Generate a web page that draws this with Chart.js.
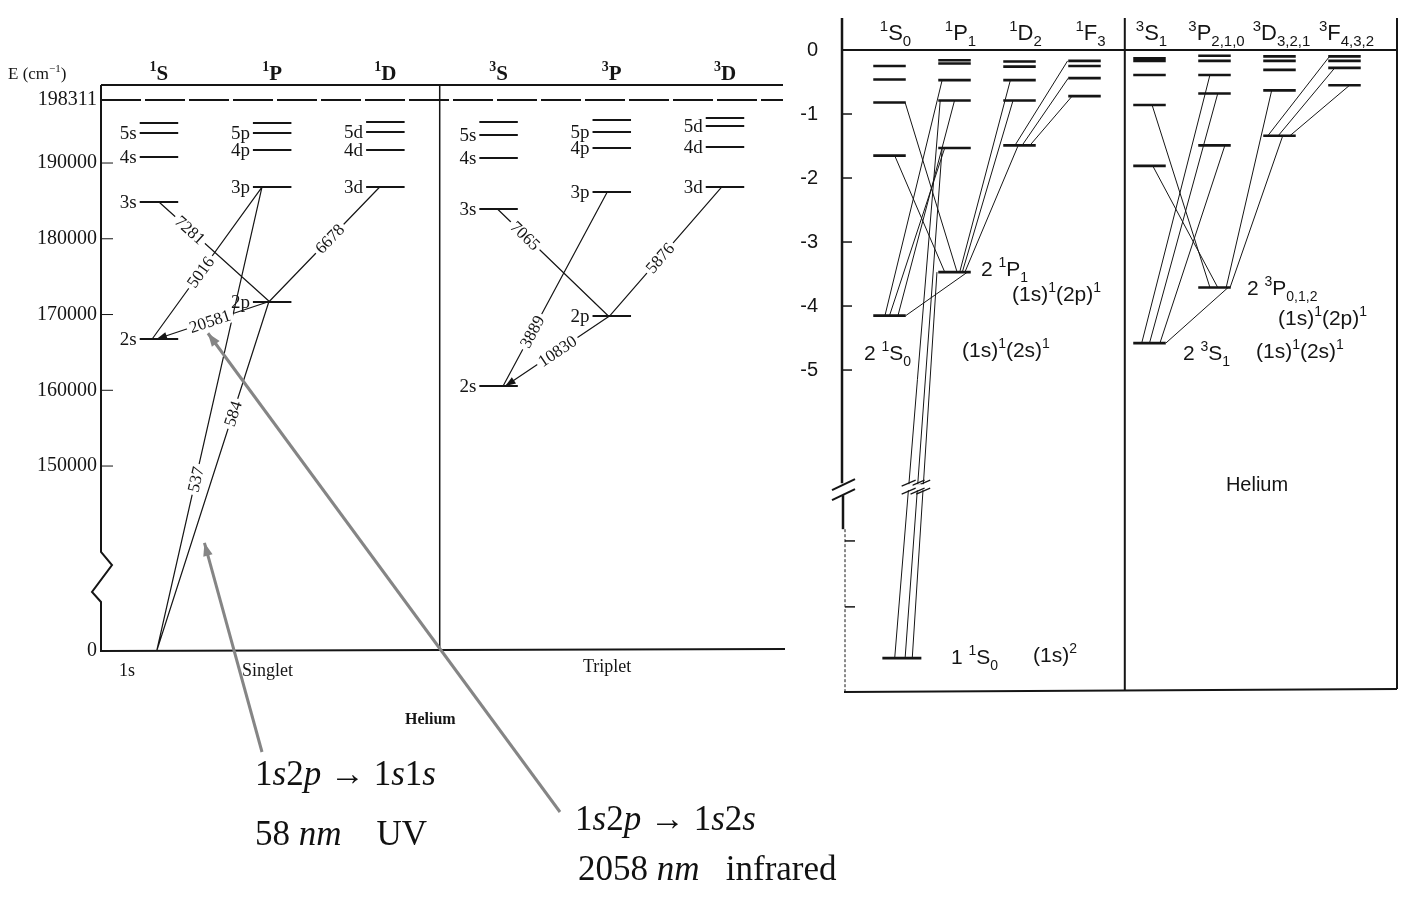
<!DOCTYPE html>
<html lang="en">
<head>
<meta charset="UTF-8">
<title>Helium term diagram</title>
<style>
  body { margin: 0; background: #fff; width: 1401px; height: 899px; position: relative; overflow: hidden; }
  canvas { position: absolute; top: 0; }
  #left { left: 0; }
  #right { left: 790px; }
  .note { position: absolute; font-family: "Liberation Serif", serif; font-size: 35px; color: #111; white-space: pre; line-height: 1; }
  .note i { font-style: italic; }
</style>
</head>
<body>
<canvas id="left" width="790" height="899"></canvas>
<canvas id="right" width="611" height="899"></canvas>
<div class="note" style="left:255px;top:756px">1<i>s</i>2<i>p</i> → 1<i>s</i>1<i>s</i></div>
<div class="note" style="left:255px;top:816px">58 <i>nm</i>    UV</div>
<div class="note" style="left:575px;top:801px">1<i>s</i>2<i>p</i> → 1<i>s</i>2<i>s</i></div>
<div class="note" style="left:578px;top:851px">2058 <i>nm</i>   infrared</div>

<script src="https://cdn.jsdelivr.net/npm/chart.js"></script>
<script>
// ---------- left diagram: term values in cm^-1 ----------
const singletS = [['2s', 166770], ['3s', 184850], ['4s', 190790], ['5s', 193960], ['', 195280]];
const singletP = [['2p', 171650], ['3p', 186830], ['4p', 191720], ['5p', 193960], ['', 195280]];
const singletD = [['3d', 186830], ['4d', 191720], ['5d', 194090], ['', 195410]];
const tripletS = [['2s', 160560], ['3s', 183930], ['4s', 190660], ['5s', 193700], ['', 195410]];
const tripletP = [['2p', 169800], ['3p', 186170], ['4p', 191980], ['5p', 194090], ['', 195680]];
const tripletD = [['3d', 186830], ['4d', 192110], ['5d', 194880], ['', 195940]];
const groundCm = 0;          // 1s^2
const ionLimit = 198311;
const leftTicks = [0, 150000, 160000, 170000, 180000, 190000, 198311];
const leftHeads = ['^{1}S', '^{1}P', '^{1}D', '^{3}S', '^{3}P', '^{3}D'];
// lines, wavelength in Å: [upper col, term, nudge, lower col, term, nudge, label, label pos]
const leftLines = [
  [0, '3s', 0.00, 1, '2p', -0.02, '7281', 0.28],
  [1, '3p', -0.09, 0, '2s', -0.06, '5016', 0.56],
  [1, '2p', -0.04, 0, '2s', -0.02, '20581', 0.52],
  [2, '3d', -0.05, 1, '2p', -0.03, '6678', 0.45],
  [1, '3p', -0.09, 0, '1s', -0.02, '537', 0.63],
  [1, '2p', -0.03, 0, '1s', -0.02, '584', 0.32],
  [3, '3s', -0.01, 4, '2p', -0.03, '7065', 0.25],
  [4, '3p', -0.04, 3, '2s', 0.04, '3889', 0.72],
  [4, '2p', -0.02, 3, '2s', 0.06, '10830', 0.5],
  [5, '3d', -0.03, 4, '2p', -0.02, '5876', 0.55]
];
const arrowed = ['20581', '10830'];

// ---------- right diagram: energies in eV ----------
const rHeads = ['^{1}S_{0}', '^{1}P_{1}', '^{1}D_{2}', '^{1}F_{3}', '^{3}S_{1}', '^{3}P_{2,1,0}', '^{3}D_{3,2,1}', '^{3}F_{4,3,2}'];
const r1S = [[2, -4.15], [3, -1.65], [4, -0.82], [5, -0.46], [6, -0.25]];
const r1P = [[2, -3.47], [3, -1.53], [4, -0.79], [5, -0.47], [6, -0.21], [7, -0.16]];
const r1D = [[3, -1.49], [4, -0.79], [5, -0.47], [6, -0.26], [7, -0.18]];
const r1F = [[4, -0.72], [5, -0.44], [6, -0.25], [7, -0.17]];
const r3S = [[2, -4.58], [3, -1.81], [4, -0.86], [5, -0.39], [6, -0.17], [7, -0.13]];
const r3P = [[2, -3.71], [3, -1.49], [4, -0.68], [5, -0.39], [6, -0.17], [7, -0.09]];
const r3D = [[3, -1.34], [4, -0.63], [5, -0.31], [6, -0.17], [7, -0.1]];
const r3F = [[4, -0.55], [5, -0.28], [6, -0.17], [7, -0.1]];
const groundEv = -24.59;
const rTicks = [0, -1, -2, -3, -4, -5];
const rMinorTicks = [-7.67, -8.7];
// [upper col, n, nudge, lower col, n, nudge]   n = 1 is the ground state
const rLines = [
  [0, 3, 0.08, 1, 2, -0.15], [0, 4, 0.24, 1, 2, 0.04],
  [1, 3, -0.15, 0, 2, 0.0], [1, 4, 0.0, 0, 2, 0.13], [1, 5, -0.19, 0, 2, -0.07], [1, 2, 0.2, 0, 2, 0.25],
  [1, 2, -0.27, 0, 1, 0.35], [1, 3, -0.19, 0, 1, 0.24], [1, 4, -0.22, 0, 1, 0.08],
  [2, 3, -0.02, 1, 2, 0.16], [2, 4, -0.1, 1, 2, 0.12], [2, 5, -0.14, 1, 2, 0.08],
  [3, 4, -0.19, 2, 3, 0.16], [3, 5, -0.25, 2, 3, 0.04], [3, 7, -0.26, 2, 3, -0.07],
  [4, 3, 0.05, 5, 2, 0.05], [4, 4, 0.04, 5, 2, -0.07],
  [5, 3, 0.16, 4, 2, 0.16], [5, 4, 0.05, 4, 2, 0.0], [5, 5, -0.07, 4, 2, -0.12], [5, 2, 0.21, 4, 2, 0.25],
  [6, 3, 0.05, 5, 2, 0.24], [6, 4, -0.12, 5, 2, 0.18],
  [7, 4, 0.08, 6, 3, 0.16], [7, 5, -0.15, 6, 3, -0.02], [7, 7, -0.23, 6, 3, -0.18]
];

// ---------- helpers ----------
const INK = '#151515';
const SERIF = '"Liberation Serif", "Times New Roman", serif';
const SANS = '"Liberation Sans", Arial, sans-serif';
const ZERO_AT = 125584;     // broken axis: where E = 0 sits
const R_GROUND_AT = -9.5;   // broken axis: where the ground state sits
const R_BREAK = -6.83;

const leftCols = [singletS, singletP, singletD, tripletS, tripletP, tripletD];
const rCols = [r1S, r1P, r1D, r1F, r3S, r3P, r3D, r3F];
const yL = e => (e === 0 ? ZERO_AT : e);
const yR = e => (e < -10 ? R_GROUND_AT : e);

function leftEnd(col, term, nudge) {
  const e = term === '1s' ? groundCm : leftCols[col].find(l => l[0] === term)[1];
  return { x: col + nudge, y: yL(e) };
}
function rightEnd(col, n, nudge) {
  if (n === 1) return { x: col + nudge, y: yR(groundEv) };
  return { x: col + nudge, y: yR(rCols[col].find(l => l[0] === n)[1]) };
}
function segs(list) {
  const out = [];
  list.forEach(([a, b]) => out.push(a, b, { x: a.x, y: null }));
  return out;
}
function seg(ctx, x1, y1, x2, y2) {
  ctx.beginPath(); ctx.moveTo(x1, y1); ctx.lineTo(x2, y2); ctx.stroke();
}
function rich(ctx, str, x, y, size, family, align, weight) {
  const parts = [];
  const re = /([\^_])\{([^}]*)\}|([^\^_]+)/g;
  let m;
  while ((m = re.exec(str))) {
    if (m[3] !== undefined) parts.push({ t: m[3], k: 0 });
    else parts.push({ t: m[2], k: m[1] === '^' ? 1 : -1 });
  }
  const w8 = weight ? weight + ' ' : '';
  const font = k => w8 + Math.round(k ? size * 0.66 : size) + 'px ' + family;
  let total = 0;
  parts.forEach(p => { ctx.font = font(p.k); p.w = ctx.measureText(p.t).width; total += p.w; });
  let cx = align === 'center' ? x - total / 2 : x;
  ctx.textAlign = 'left';
  ctx.textBaseline = 'alphabetic';
  parts.forEach(p => {
    ctx.font = font(p.k);
    ctx.fillText(p.t, cx, y + (p.k === 1 ? -size * 0.42 : p.k === -1 ? size * 0.28 : 0));
    cx += p.w;
  });
}
function arrowHead(ctx, from, tip, size) {
  const ang = Math.atan2(tip.y - from.y, tip.x - from.x);
  ctx.beginPath();
  ctx.moveTo(tip.x, tip.y);
  ctx.lineTo(tip.x - size * Math.cos(ang - 0.35), tip.y - size * Math.sin(ang - 0.35));
  ctx.lineTo(tip.x - size * Math.cos(ang + 0.35), tip.y - size * Math.sin(ang + 0.35));
  ctx.closePath();
  ctx.fill();
}

// ---------- left chart ----------
const leftLevelPts = [];
leftCols.forEach((col, k) => col.forEach(([, e]) => {
  leftLevelPts.push([{ x: k - 0.17, y: e }, { x: k + 0.17, y: e }]);
}));
const leftLinePts = leftLines.map(l => [leftEnd(l[0], l[1], l[2]), leftEnd(l[3], l[4], l[5])]);

const leftDecor = {
  id: 'leftDecor',
  afterDatasetsDraw(chart) {
    const { ctx, chartArea: a, scales: { x, y } } = chart;
    const P = p => ({ x: x.getPixelForValue(p.x), y: y.getPixelForValue(p.y) });
    ctx.save();
    ctx.strokeStyle = INK; ctx.fillStyle = INK;
    // frame and broken energy axis
    ctx.lineWidth = 2;
    seg(ctx, a.left, a.top, a.right + 3, a.top);
    ctx.setLineDash([40, 4]);
    seg(ctx, a.left, y.getPixelForValue(ionLimit), a.right + 3, y.getPixelForValue(ionLimit));
    ctx.setLineDash([]);
    ctx.beginPath();
    ctx.moveTo(a.left, a.top);
    ctx.lineTo(a.left, a.bottom - 99);
    ctx.lineTo(a.left + 11, a.bottom - 86);
    ctx.lineTo(a.left - 9, a.bottom - 59);
    ctx.lineTo(a.left, a.bottom - 49);
    ctx.lineTo(a.left, a.bottom);
    ctx.lineTo(a.right + 5, a.bottom - 2);
    ctx.stroke();
    ctx.lineWidth = 1.5;
    seg(ctx, x.getPixelForValue(2.48), a.top, x.getPixelForValue(2.48), a.bottom);
    ctx.lineWidth = 1;
    leftTicks.slice(1, -1).forEach(v => seg(ctx, a.left, y.getPixelForValue(v), a.left + 12, y.getPixelForValue(v)));

    // column heads
    leftHeads.forEach((h, k) => rich(ctx, h, x.getPixelForValue(k), 80, 21, SERIF, 'center', 'bold'));
    rich(ctx, 'E (cm^{\u22121})', 8, 79, 17, SERIF, 'left');

    // level names
    ctx.font = '19px ' + SERIF;
    ctx.textAlign = 'right'; ctx.textBaseline = 'middle';
    leftCols.forEach((col, k) => col.forEach(([lab, e]) => {
      if (lab) ctx.fillText(lab, x.getPixelForValue(k - 0.17) - 3, y.getPixelForValue(e) + 1);
    }));

    // wavelength labels sitting in the lines
    leftLines.forEach((l, i) => {
      const p1 = P(leftLinePts[i][0]), p2 = P(leftLinePts[i][1]);
      const t = l[7];
      const cx = p1.x + (p2.x - p1.x) * t, cy = p1.y + (p2.y - p1.y) * t;
      let ang = Math.atan2(p2.y - p1.y, p2.x - p1.x);
      if (ang > Math.PI / 2) ang -= Math.PI;
      if (ang < -Math.PI / 2) ang += Math.PI;
      ctx.save();
      ctx.translate(cx, cy); ctx.rotate(ang);
      ctx.font = '17px ' + SERIF;
      const w = ctx.measureText(l[6]).width;
      ctx.fillStyle = '#fff'; ctx.fillRect(-w / 2 - 3, -8, w + 6, 16);
      ctx.fillStyle = INK; ctx.textAlign = 'center'; ctx.textBaseline = 'middle';
      ctx.fillText(l[6], 0, 1);
      ctx.restore();
      if (arrowed.includes(l[6])) arrowHead(ctx, p1, p2, 11);
    });

    // captions
    ctx.font = '18px ' + SERIF; ctx.textAlign = 'left'; ctx.textBaseline = 'alphabetic';
    ctx.fillText('1s', 119, a.bottom + 25);
    ctx.fillText('Singlet', 242, a.bottom + 25);
    ctx.fillText('Triplet', 583, a.bottom + 21);
    ctx.font = 'bold 16px ' + SERIF;
    ctx.fillText('Helium', 405, a.bottom + 73);

    // grey pointer arrows to the two lines discussed below
    const ir = leftLines.findIndex(l => l[6] === '20581');
    const r1 = P(leftLinePts[ir][0]), r2 = P(leftLinePts[ir][1]);
    const tipA = { x: r1.x + (r2.x - r1.x) * 0.52 - 2, y: r1.y + (r2.y - r1.y) * 0.52 + 12 };
    const iu = leftLines.findIndex(l => l[6] === '584');
    const u1 = P(leftLinePts[iu][0]), u2 = P(leftLinePts[iu][1]);
    const tipB = { x: u1.x + (u2.x - u1.x) * 0.69 + 13, y: u1.y + (u2.y - u1.y) * 0.69 };
    ctx.strokeStyle = '#858585'; ctx.fillStyle = '#858585'; ctx.lineWidth = 3;
    const tailA = { x: 560, y: 812 }, tailB = { x: 262, y: 752 };
    seg(ctx, tailA.x, tailA.y, tipA.x, tipA.y); arrowHead(ctx, tailA, tipA, 14);
    seg(ctx, tailB.x, tailB.y, tipB.x, tipB.y); arrowHead(ctx, tailB, tipB, 14);
    ctx.restore();
  }
};

new Chart(document.getElementById('left'), {
  type: 'scatter',
  data: {
    datasets: [
      { data: segs(leftLevelPts), showLine: true, borderColor: INK, borderWidth: 2, pointRadius: 0 },
      { data: segs(leftLinePts), showLine: true, borderColor: INK, borderWidth: 1.2, pointRadius: 0 }
    ]
  },
  options: {
    responsive: false, animation: false, events: [],
    plugins: { legend: { display: false }, tooltip: { enabled: false } },
    layout: { padding: { top: 85, right: 10, bottom: 248, left: 0 } },
    scales: {
      x: { type: 'linear', display: false, min: -0.512, max: 5.486 },
      y: {
        type: 'linear', min: ZERO_AT, max: 200300,
        afterFit: s => { s.width = 101; },
        afterBuildTicks: s => { s.ticks = leftTicks.map(v => ({ value: yL(v) })); },
        ticks: {
          autoSkip: false, padding: 4, color: INK,
          font: { family: SERIF, size: 20 },
          callback: v => (v === ZERO_AT ? '0' : String(v))
        },
        grid: { display: false, drawTicks: false },
        border: { display: false }
      }
    }
  },
  plugins: [leftDecor]
});

// ---------- right chart ----------
const rLevelPts = [];
rCols.forEach((col, k) => col.forEach(([, e]) => {
  rLevelPts.push([{ x: k - 0.25, y: yR(e) }, { x: k + 0.25, y: yR(e) }]);
}));
rLevelPts.push([{ x: -0.11, y: yR(groundEv) }, { x: 0.49, y: yR(groundEv) }]);
const rLinePts = rLines.map(l => [rightEnd(l[0], l[1], l[2]), rightEnd(l[3], l[4], l[5])]);

const rightDecor = {
  id: 'rightDecor',
  afterDatasetsDraw(chart) {
    const { ctx, chartArea: a, scales: { x, y } } = chart;
    const P = p => ({ x: x.getPixelForValue(p.x), y: y.getPixelForValue(p.y) });
    const top = 18;
    const yb = y.getPixelForValue(R_BREAK);
    ctx.save();
    ctx.strokeStyle = INK; ctx.fillStyle = INK;

    // breaks on the lines that go down to the ground state
    rLines.forEach((l, i) => {
      if (l[4] !== 1) return;
      const p1 = P(rLinePts[i][0]), p2 = P(rLinePts[i][1]);
      const t = (yb - p1.y) / (p2.y - p1.y);
      const bx = p1.x + (p2.x - p1.x) * t;
      ctx.fillStyle = '#fff'; ctx.fillRect(bx - 4, yb - 3, 8, 6);
      ctx.lineWidth = 1.2;
      seg(ctx, bx - 7, yb - 1, bx + 7, yb - 7);
      seg(ctx, bx - 7, yb + 7, bx + 7, yb + 1);
    });
    ctx.fillStyle = INK;

    // frame
    ctx.lineWidth = 2;
    seg(ctx, a.left, a.top, a.right, a.top);
    seg(ctx, a.left + 2, a.bottom, a.right, a.bottom - 3);
    seg(ctx, x.getPixelForValue(3.62), top, x.getPixelForValue(3.62), a.bottom - 2);
    seg(ctx, a.right, top, a.right, a.bottom - 3);
    // broken energy axis
    ctx.lineWidth = 2.5;
    seg(ctx, a.left, top, a.left, yb - 4);
    seg(ctx, a.left + 1, yb + 8, a.left + 1, yb + 42);
    ctx.lineWidth = 1; ctx.setLineDash([3, 2]);
    seg(ctx, a.left + 3, yb + 42, a.left + 3, a.bottom);
    ctx.setLineDash([]);
    ctx.lineWidth = 2;
    seg(ctx, a.left - 10, yb + 3, a.left + 13, yb - 8);
    seg(ctx, a.left - 10, yb + 13, a.left + 13, yb + 2);
    // tick marks, inside
    ctx.lineWidth = 1.5;
    rTicks.slice(1).forEach(v => seg(ctx, a.left, y.getPixelForValue(v), a.left + 10, y.getPixelForValue(v)));
    rMinorTicks.forEach(v => seg(ctx, a.left + 3, y.getPixelForValue(v), a.left + 13, y.getPixelForValue(v)));

    // column heads
    ctx.fillStyle = INK;
    rHeads.forEach((h, k) => rich(ctx, h, x.getPixelForValue(k) + (k < 4 ? 6 : 2), 40, 22, SANS, 'center'));

    // state labels
    const L = (s, px, py) => rich(ctx, s, px - 790, py, 21, SANS, 'left');
    L('2 ^{1}P_{1}', 981, 276);
    L('(1s)^{1}(2p)^{1}', 1012, 301);
    L('2 ^{1}S_{0}', 864, 360);
    L('(1s)^{1}(2s)^{1}', 962, 357);
    L('2 ^{3}P_{0,1,2}', 1247, 295);
    L('(1s)^{1}(2p)^{1}', 1278, 325);
    L('2 ^{3}S_{1}', 1183, 360);
    L('(1s)^{1}(2s)^{1}', 1256, 358);
    L('1 ^{1}S_{0}', 951, 664);
    L('(1s)^{2}', 1033, 662);
    ctx.font = '20px ' + SANS; ctx.textAlign = 'center'; ctx.textBaseline = 'middle';
    ctx.fillText('Helium', 1257 - 790, 485);
    ctx.restore();
  }
};

new Chart(document.getElementById('right'), {
  type: 'scatter',
  data: {
    datasets: [
      { data: segs(rLevelPts), showLine: true, borderColor: INK, borderWidth: 2.6, pointRadius: 0 },
      { data: segs(rLinePts), showLine: true, borderColor: INK, borderWidth: 1, pointRadius: 0 }
    ]
  },
  options: {
    responsive: false, animation: false, events: [],
    plugins: { legend: { display: false }, tooltip: { enabled: false } },
    layout: { padding: { top: 50, right: 4, bottom: 207, left: 0 } },
    scales: {
      x: { type: 'linear', display: false, min: -0.731, max: 7.808 },
      y: {
        type: 'linear', min: -10.03, max: 0,
        afterFit: s => { s.width = 52; },
        afterBuildTicks: s => { s.ticks = rTicks.map(v => ({ value: v })); },
        ticks: { autoSkip: false, padding: 24, color: INK, font: { family: SANS, size: 20 } },
        grid: { display: false, drawTicks: false },
        border: { display: false }
      }
    }
  },
  plugins: [rightDecor]
});
</script>
</body>
</html>
